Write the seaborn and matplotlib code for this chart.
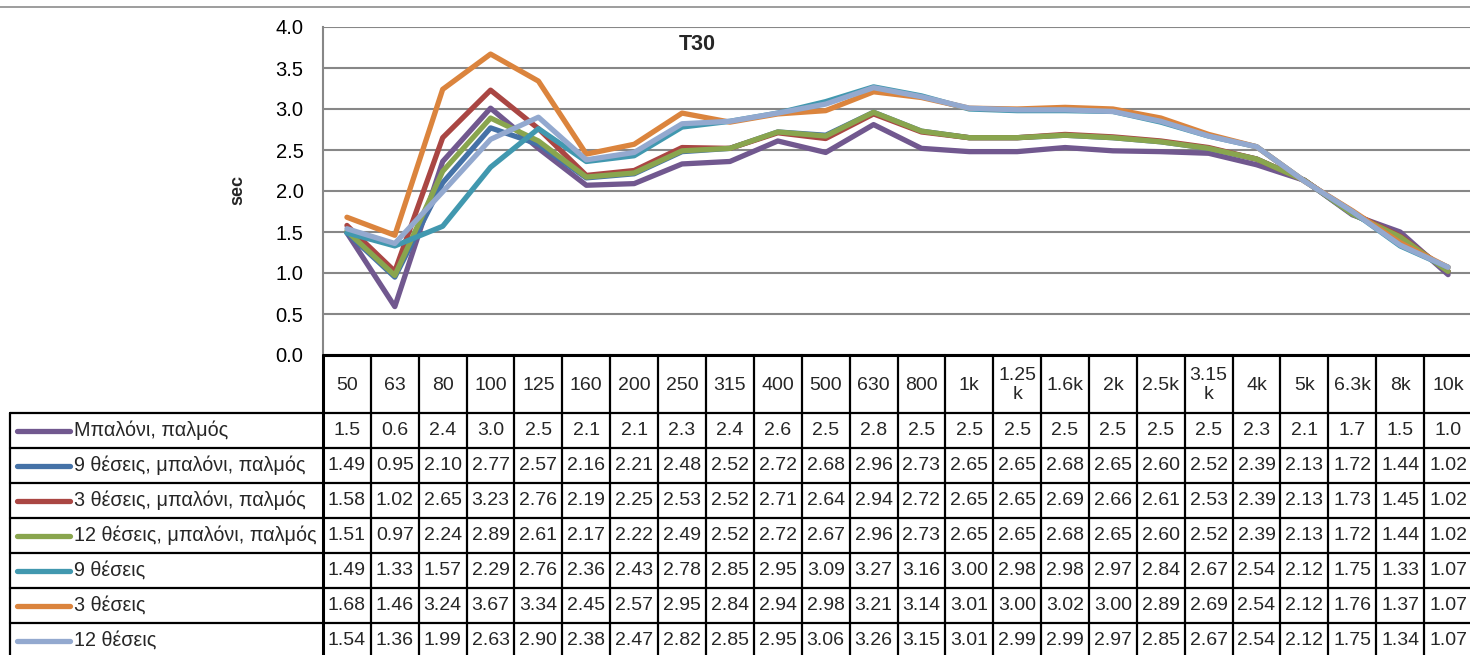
import numpy as np
import pandas as pd
import matplotlib
matplotlib.use("Agg")
import matplotlib.pyplot as plt
import seaborn as sns

# Third-octave bands (Hz)
bands = ["50", "63", "80", "100", "125", "160", "200", "250", "315", "400",
         "500", "630", "800", "1k", "1.25k", "1.6k", "2k", "2.5k", "3.15k",
         "4k", "5k", "6.3k", "8k", "10k"]
band_headers = ["50", "63", "80", "100", "125", "160", "200", "250", "315", "400",
                "500", "630", "800", "1k", "1.25\nk", "1.6k", "2k", "2.5k", "3.15\nk",
                "4k", "5k", "6.3k", "8k", "10k"]

# T30 reverberation time per band (sec)
balloon = [1.49, 0.59, 2.36, 3.01, 2.52, 2.07, 2.09, 2.33, 2.36, 2.61, 2.47, 2.81,
           2.52, 2.48, 2.48, 2.53, 2.49, 2.48, 2.46, 2.32, 2.13, 1.71, 1.50, 0.98]
balloon_9 = [1.49, 0.95, 2.10, 2.77, 2.57, 2.16, 2.21, 2.48, 2.52, 2.72, 2.68, 2.96,
             2.73, 2.65, 2.65, 2.68, 2.65, 2.60, 2.52, 2.39, 2.13, 1.72, 1.44, 1.02]
balloon_3 = [1.58, 1.02, 2.65, 3.23, 2.76, 2.19, 2.25, 2.53, 2.52, 2.71, 2.64, 2.94,
             2.72, 2.65, 2.65, 2.69, 2.66, 2.61, 2.53, 2.39, 2.13, 1.73, 1.45, 1.02]
balloon_12 = [1.51, 0.97, 2.24, 2.89, 2.61, 2.17, 2.22, 2.49, 2.52, 2.72, 2.67, 2.96,
              2.73, 2.65, 2.65, 2.68, 2.65, 2.60, 2.52, 2.39, 2.13, 1.72, 1.44, 1.02]
pos_9 = [1.49, 1.33, 1.57, 2.29, 2.76, 2.36, 2.43, 2.78, 2.85, 2.95, 3.09, 3.27,
         3.16, 3.00, 2.98, 2.98, 2.97, 2.84, 2.67, 2.54, 2.12, 1.75, 1.33, 1.07]
pos_3 = [1.68, 1.46, 3.24, 3.67, 3.34, 2.45, 2.57, 2.95, 2.84, 2.94, 2.98, 3.21,
         3.14, 3.01, 3.00, 3.02, 3.00, 2.89, 2.69, 2.54, 2.12, 1.76, 1.37, 1.07]
pos_12 = [1.54, 1.36, 1.99, 2.63, 2.90, 2.38, 2.47, 2.82, 2.85, 2.95, 3.06, 3.26,
          3.15, 3.01, 2.99, 2.99, 2.97, 2.85, 2.67, 2.54, 2.12, 1.75, 1.34, 1.07]

series_names = ["Μπαλόνι, παλμός", "9 θέσεις, μπαλόνι, παλμός",
                "3 θέσεις, μπαλόνι, παλμός", "12 θέσεις, μπαλόνι, παλμός",
                "9 θέσεις", "3 θέσεις", "12 θέσεις"]
series_values = [balloon, balloon_9, balloon_3, balloon_12, pos_9, pos_3, pos_12]
series_decimals = [1, 2, 2, 2, 2, 2, 2]
series_colors = ["#71588F", "#4572A7", "#AA4643", "#89A54E",
                 "#4198AF", "#DB843D", "#93A9CF"]

y_ticks = [0.0, 0.5, 1.0, 1.5, 2.0, 2.5, 3.0, 3.5, 4.0]

df = pd.DataFrame([
    {"series": name, "band": i, "sec": v}
    for name, vals in zip(series_names, series_values)
    for i, v in enumerate(vals)
])

sns.set_theme(style="white")
plt.rcParams["font.family"] = ["Liberation Sans", "DejaVu Sans"]

W, H = 1470, 655
fig = plt.figure(figsize=(W / 100, H / 100), dpi=100)

# plot area in pixel units
left, right, top, bottom = 323, 1472, 27, 355
ax = fig.add_axes([left / W, (H - bottom) / H, (right - left) / W, (bottom - top) / H])

sns.lineplot(data=df, x="band", y="sec", hue="series", hue_order=series_names,
             palette=series_colors, linewidth=3.8, legend=False, sort=False,
             estimator=None, ax=ax)
for ln in ax.lines:
    ln.set_solid_capstyle("round")
    ln.set_solid_joinstyle("round")

ax.set_xlim(-0.5, len(bands) - 0.5)
ax.set_ylim(0, 4)
ax.set_yticks(y_ticks)
ax.set_yticklabels([f"{t:.1f}" for t in y_ticks], fontsize=14.5, color="black")
ax.set_xticks([])
ax.tick_params(axis="y", length=0, pad=14)
ax.yaxis.grid(True, color="#878787", linewidth=1.5)
ax.set_axisbelow(True)
for s in ["top", "right", "bottom"]:
    ax.spines[s].set_visible(False)
ax.spines["left"].set_color("#878787")
ax.spines["left"].set_linewidth(1.5)
ax.set_xlabel("")
ax.set_ylabel("")

fig.text(238 / W, 1 - 190 / H, "sec", rotation=90, ha="center", va="center",
         fontsize=13, fontweight="bold")
fig.text(697 / W, 1 - 45 / H, "T30", ha="center", va="center",
         fontsize=15.5, fontweight="bold")

# overlay in pixel coordinates for the data table
ov = fig.add_axes([0, 0, 1, 1])
ov.set_xlim(0, W)
ov.set_ylim(H, 0)
ov.axis("off")
ov.patch.set_alpha(0)

# chart border line at the top
ov.plot([0, W], [7, 7], color="#8c8c8c", lw=1.2, clip_on=False)

def px_x(xd):
    return ax.transData.transform((xd, 0))[0]

edges = [px_x(i - 0.5) for i in range(len(bands) + 1)]
centers = [px_x(i) for i in range(len(bands))]

hdr_top, hdr_bot = 355, 413
row_h = 35.0
n_rows = len(series_names)
tab_bot = hdr_bot + row_h * n_rows
lab_left = 10

lc = "black"
lw_tab = 1.6
# horizontal rules
ov.plot([edges[0], edges[-1]], [hdr_top, hdr_top], color=lc, lw=2.2, clip_on=False)
for r in range(n_rows + 1):
    y = hdr_bot + r * row_h
    ov.plot([lab_left, edges[-1]], [y, y], color=lc, lw=lw_tab, clip_on=False)
# vertical rules
for i, xe in enumerate(edges):
    ov.plot([xe, xe], [hdr_top, tab_bot], color=lc, lw=2.2 if i == 0 else lw_tab,
            clip_on=False)
ov.plot([lab_left, lab_left], [hdr_bot, tab_bot], color=lc, lw=lw_tab, clip_on=False)

# header texts
for xc, lab in zip(centers, band_headers):
    ov.text(xc, (hdr_top + hdr_bot) / 2 + 1, lab, ha="center", va="center",
            fontsize=14, linespacing=1.1)

# rows: legend key, name and values
for r, (name, vals, dec, col) in enumerate(zip(series_names, series_values,
                                              series_decimals, series_colors)):
    yc = hdr_bot + (r + 0.5) * row_h
    ov.plot([17, 70], [yc, yc], color=col, lw=3.8, solid_capstyle="round",
            clip_on=False)
    ov.text(74, yc, name, ha="left", va="center", fontsize=14.2)
    for xc, v in zip(centers, vals):
        ov.text(xc, yc, f"{v:.{dec}f}", ha="center", va="center", fontsize=14)

fig.savefig("out.png", dpi=100, facecolor="white")
